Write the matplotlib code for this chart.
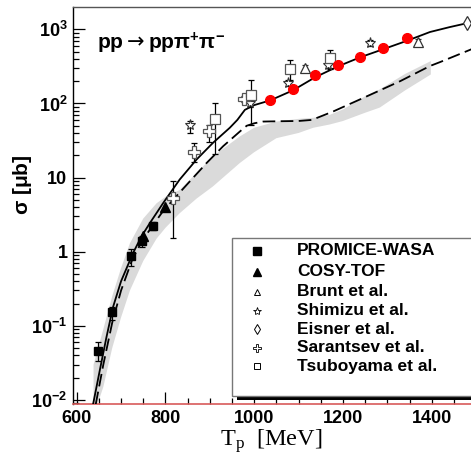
import matplotlib
matplotlib.use("Agg")
import matplotlib.pyplot as plt
from matplotlib.lines import Line2D
from matplotlib.patches import Rectangle
import numpy as np

# ---------------- data ----------------
# theory curves
T_solid = [637, 652, 667, 682, 700, 727, 746, 765, 795, 832, 870, 907, 945, 962, 979,
           1000, 1036, 1087, 1137, 1188, 1239, 1291, 1344, 1396, 1440, 1490]
s_solid = [0.0088, 0.025, 0.07, 0.18, 0.40, 0.96, 1.61, 2.44, 4.55, 9.4, 17.5, 29.4, 47, 60, 82,
           95, 110, 150, 225, 315, 420, 540, 700, 920, 1070, 1250]

T_dash = [643, 660, 680, 700, 725, 750, 765, 791, 817, 855, 893, 930, 968, 983, 1000, 1020,
          1060, 1100, 1130, 1178, 1254, 1329, 1396, 1419, 1490]
s_dash = [0.0088, 0.03, 0.11, 0.30, 0.78, 1.5, 1.98, 3.3, 5.0, 8.9, 15.8, 26.5, 42, 50, 54, 57,
          57.6, 58, 60, 78, 125, 200, 320, 362, 540]

T_band = [638, 660, 680, 700, 720, 750, 780, 800, 832, 870, 907, 968, 1000, 1050, 1100, 1133,
          1170, 1200, 1250, 1283, 1340, 1398]
band_lo = [0.006, 0.015, 0.05, 0.13, 0.3, 0.75, 1.5, 2.1, 3.3, 5.2, 7.6, 15.8, 22, 34, 40, 47,
           52, 58, 75, 88, 150, 246]
band_hi = [0.03, 0.09, 0.25, 0.6, 1.3, 2.8, 4.5, 5.5, 6.8, 11.5, 19.4, 36, 47, 57, 62, 64,
           70, 83, 125, 155, 250, 373]

# experiments
promice_T = [648, 679, 723, 748, 773]
promice_s = [0.046, 0.153, 0.88, 1.38, 2.25]
promice_lo = [0.034, 0.12, 0.65, 1.15, 1.95]
promice_hi = [0.060, 0.18, 1.10, 1.62, 2.55]

cosy_T = [749, 800]
cosy_s = [1.63, 3.95]

brunt_T = [1114, 1370]
brunt_s = [303, 675]
brunt_lo = [270, 600]
brunt_hi = [330, 740]

shimizu_T = [855, 990, 1077, 1167, 1261]
shimizu_s = [51, 100, 190, 330, 660]
shimizu_lo = [40, 90, 170, 300, 600]
shimizu_hi = [58, 110, 210, 360, 720]

eisner_T = [1480]
eisner_s = [1230]

sarantsev_T = [817, 864, 898, 977]
sarantsev_s = [5.25, 22.3, 42.9, 116]
sarantsev_lo = [1.51, 16.4, 30.5, 105]
sarantsev_hi = [8.87, 29.0, 51.0, 127]

tsuboyama_T = [911, 992, 1081, 1171]
tsuboyama_s = [61, 132, 294, 412]
tsuboyama_lo = [20.6, 52, 210, 288]
tsuboyama_hi = [102, 210, 385, 525]

red_T = [1036, 1087, 1137, 1188, 1239, 1291, 1344]
red_s = [110, 158, 244, 329, 428, 554, 755]

legend_labels = ["PROMICE-WASA", "COSY-TOF", "Brunt et al.", "Shimizu et al.",
                 "Eisner et al.", "Sarantsev et al.", "Tsuboyama et al."]

x_ticks = [600, 800, 1000, 1200, 1400]
y_ticks = [0.01, 0.1, 1, 10, 100, 1000]
y_ticklabels = [r"$\mathregular{10^{-2}}$", r"$\mathregular{10^{-1}}$", "1", "10",
                r"$\mathregular{10^{2}}$", r"$\mathregular{10^{3}}$"]

# ---------------- figure ----------------
W, H = 471, 455
fig = plt.figure(figsize=(W / 100, H / 100), dpi=100)
L, B, T_, R = 73, 404, 7.3, 471
ax = fig.add_axes([L / W, 1 - B / H, (R - L) / W, (B - T_) / H])
ax.set_yscale("log")
ax.set_xlim(591.7, 1488.5)
ax.set_ylim(0.00883, 1982)

sans = "Liberation Sans"

ax.fill_between(T_band, band_lo, band_hi, facecolor="#dadada", edgecolor="none", zorder=1)
ax.plot(T_solid, s_solid, color="black", lw=1.3, zorder=3)
ax.plot(T_dash, s_dash, color="black", lw=1.3, dashes=(7, 3), zorder=3)

def eb(x, y, lo, hi, color="black"):
    y = np.array(y); lo = np.array(lo); hi = np.array(hi)
    ax.errorbar(x, y, yerr=[y - lo, hi - y], fmt="none", ecolor=color, elinewidth=0.9,
                capsize=2.5, capthick=0.9, zorder=4)

eb(promice_T, promice_s, promice_lo, promice_hi)
eb(brunt_T, brunt_s, brunt_lo, brunt_hi, "#333333")
eb(shimizu_T, shimizu_s, shimizu_lo, shimizu_hi)
eb(sarantsev_T, sarantsev_s, sarantsev_lo, sarantsev_hi)
eb(tsuboyama_T, tsuboyama_s, tsuboyama_lo, tsuboyama_hi)

ax.plot(promice_T, promice_s, "s", ms=6, color="black", zorder=5)
ax.plot(cosy_T, cosy_s, "^", ms=6.5, color="black", zorder=5)
ax.plot(brunt_T, brunt_s, "^", ms=6.5, mfc="white", mec="#333333", mew=0.9, zorder=5)
ax.plot(shimizu_T, shimizu_s, "*", ms=8, mfc="white", mec="#333333", mew=0.8, zorder=5)
ax.plot(eisner_T, eisner_s, "d", ms=7, mfc="white", mec="#333333", mew=0.9, zorder=5)
ax.plot(sarantsev_T, sarantsev_s, "P", ms=8, mfc="white", mec="#555555", mew=0.9, zorder=5)
ax.plot(tsuboyama_T, tsuboyama_s, "s", ms=7, mfc="white", mec="#555555", mew=0.9, zorder=5)
ax.plot(red_T, red_s, "o", ms=7, color="#ff0000", mec="#ff0000", zorder=6)

# axes styling
ax.spines["right"].set_visible(False)
ax.spines["top"].set_color("#555555")
ax.spines["left"].set_color("black")
ax.spines["bottom"].set_color("#d85a5a")
ax.spines["bottom"].set_linewidth(1.2)
for s in ["top", "left"]:
    ax.spines[s].set_linewidth(1.0)

ax.set_xticks(x_ticks)
ax.set_xticks(np.arange(600, 1500, 50), minor=True)
ax.set_yticks(y_ticks, labels=y_ticklabels)
ax.tick_params(which="major", direction="in", length=8.5, width=0.9, color="black", pad=4)
ax.tick_params(which="minor", direction="in", length=4, width=0.9, color="black")
ax.tick_params(axis="y", which="both", right=False)
ax.tick_params(axis="x", which="both", top=False)
for lab in ax.get_xticklabels() + ax.get_yticklabels():
    lab.set_fontfamily(sans)
    lab.set_fontweight("bold")
    lab.set_fontsize(13)

# axis labels
fig.text(22 / W, 1 - 185 / H, r"$\mathregular{σ}$ [μb]", rotation=90, ha="center",
         va="center", fontsize=15, fontweight="bold", family=sans)
fig.text(271 / W, 1 - 441 / H, r"$\mathregular{T_{p}}$  [MeV]", ha="center", va="center",
         fontsize=17.5, family="Liberation Serif")

# reaction label
fig.text(97 / W, 1 - 43 / H, r"$\mathregular{pp}{\rightarrow}\mathregular{pp π^{+}π^{-}}$",
         ha="left", va="center", fontsize=15, fontweight="bold", family=sans)

# legend (ROOT-like box with shadow)
lx0, ly0, ly1 = 231.7, 238.3, 396
fig.add_artist(Rectangle(((lx0 + 5) / W, 1 - 399.5 / H), (W - lx0) / W, (399.5 - ly0 - 5) / H,
                         transform=fig.transFigure, facecolor="black", edgecolor="none", zorder=8))
fig.add_artist(Rectangle((lx0 / W, 1 - ly1 / H), (W - lx0 + 5) / W, (ly1 - ly0) / H,
                         transform=fig.transFigure, facecolor="white", edgecolor="#777777",
                         lw=1.0, zorder=9))
rows = [250.7, 271.5, 291.5, 310.5, 329, 347.5, 366]
leg_styles = [
    dict(marker="s", ms=5.5, color="black"),
    dict(marker="^", ms=5.5, color="black"),
    dict(marker="^", ms=5, mfc="white", mec="black", mew=0.7),
    dict(marker="*", ms=6, mfc="white", mec="black", mew=0.6),
    dict(marker="d", ms=5.5, mfc="white", mec="black", mew=0.7),
    dict(marker="P", ms=6, mfc="white", mec="black", mew=0.6),
    dict(marker="s", ms=5, mfc="white", mec="black", mew=0.7),
]
for yy, lab, st in zip(rows, legend_labels, leg_styles):
    fig.add_artist(Line2D([256.7 / W], [1 - yy / H], linestyle="none",
                          transform=fig.transFigure, zorder=10, **st))
    fig.text(297.3 / W, 1 - yy / H, lab, ha="left", va="center", fontsize=12.5,
             fontweight="bold", family=sans, zorder=10)

fig.savefig("out.png", dpi=100)
